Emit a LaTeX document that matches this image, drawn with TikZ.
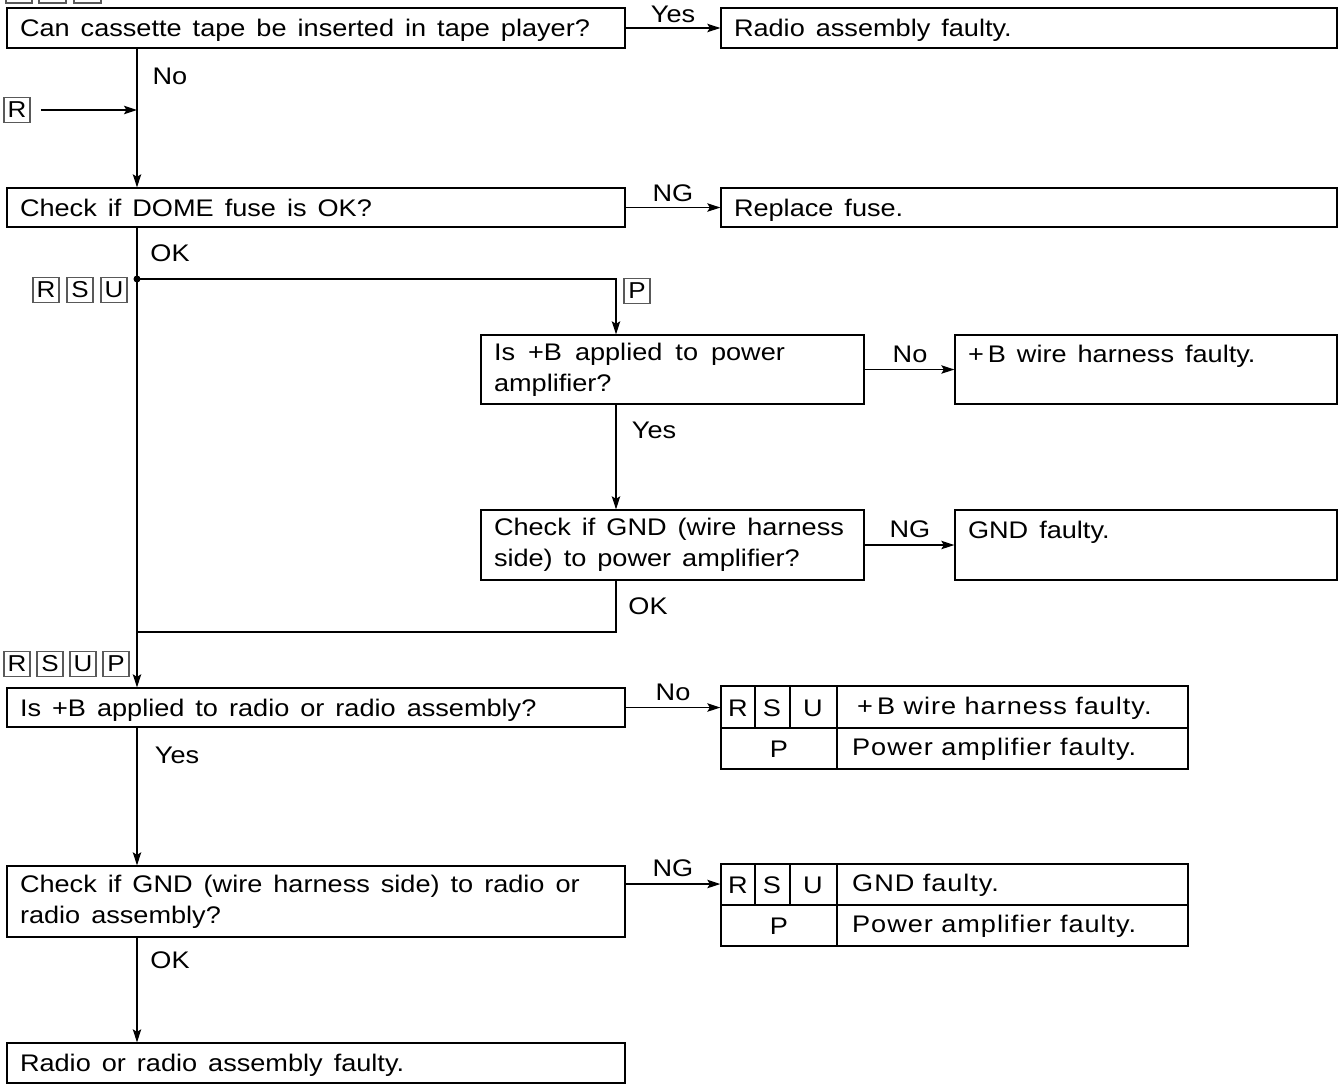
\documentclass[tikz,border=0pt]{standalone}
\usepackage{fontspec}
\setmainfont{Liberation Sans}[FakeStretch=1.13]
\newfontfamily\cellfont{Liberation Sans}[FakeStretch=1.13, LetterSpace=4]
\usetikzlibrary{arrows.meta,calc}
\newcommand{\mytxt}{\fontsize{24}{31}\selectfont}
\newcommand{\celltxt}{\cellfont\fontsize{24}{31}\selectfont}
\newcommand{\tagtxt}{\fontsize{23}{24}\selectfont}
\begin{document}
\begin{tikzpicture}[x=1pt,y=-1pt,
 font=\mytxt,
 box/.style={draw, line width=1.4pt, inner xsep=13pt, inner ysep=0pt, align=left,
   execute at begin node={\spaceskip=11pt plus 1pt minus 1pt\relax}},
 one/.style={text depth=0pt},
 arr/.style={line width=1.2pt, -{Stealth[length=13pt,width=8.5pt,inset=2.5pt]}},
 ln/.style={line width=1.2pt},
 lbl/.style={inner sep=0pt},
 tag/.style={draw=black!65, line width=1.8pt, minimum width=26pt, minimum height=25pt, inner sep=0pt, font=\tagtxt},
 cell/.style={inner sep=0pt, font=\celltxt}
]
\clip (0,0) rectangle (1342,1090);
\fill[white] (0,0) rectangle (1342,1090);
% partially visible tags at top
\draw[draw=black!65, line width=1.8pt] (6,-22) rectangle (32,3);
\draw[draw=black!65, line width=1.8pt] (39,-22) rectangle (66,3);
\draw[draw=black!65, line width=1.8pt] (74,-22) rectangle (101,3);

\coordinate (vx) at (137,0);
\coordinate (vy) at (616,0);

% boxes
\node[box, one, minimum height=40pt, text width=592pt] (b1) at (316,28) {Can cassette tape be inserted in tape player?};
\node[box, one, minimum height=40pt, text width=590pt] (b2) at (1029,28) {Radio assembly faulty.};
\node[box, one, minimum height=39pt, text width=592pt] (b3) at (316,207.5) {Check if DOME fuse is OK?};
\node[box, one, minimum height=39pt, text width=590pt] (b4) at (1029,207.5) {Replace fuse.};
\node[box, minimum height=69pt, text width=357pt] (b5) at (672.5,369.5) {{\spaceskip=13pt\relax Is +B applied to power}\\amplifier?};
\node[box, minimum height=69pt, text width=356pt] (b6) at (1146,369.5) {+\,B wire harness faulty.\\\mbox{}};
\node[box, minimum height=70pt, text width=357pt] (b7) at (672.5,545) {Check if GND (wire harness\\side) to power amplifier?};
\node[box, minimum height=70pt, text width=356pt] (b8) at (1146,545) {GND faulty.\\\mbox{}};
\node[box, one, minimum height=39pt, text width=592pt] (b9) at (316,707.5) {Is +B applied to radio or radio assembly?};
\node[box, minimum height=71pt, text width=592pt] (b10) at (316,901.5) {Check if GND (wire harness side) to radio or\\radio assembly?};
\node[box, one, minimum height=40pt, text width=592pt] (b11) at (316,1063) {Radio or radio assembly faulty.};

% tables
\node[draw, line width=1.4pt, minimum width=467pt, minimum height=83pt, inner sep=0pt] (t1) at (954.5,727.5) {};
\draw[line width=1.2pt] (721,728) -- (1188,728);
\draw[line width=1.2pt] (755,686) -- (755,728);
\draw[line width=1.2pt] (790,686) -- (790,728);
\draw[line width=1.2pt] (837,686) -- (837,769);
\node[cell] (t1r) at (738,708) {R};
\node[cell] (t1s) at (772,708) {S};
\node[cell] (t1u) at (813,708) {U};
\node[cell, anchor=west] (t1a) at (857,708) {+\,B wire harness faulty.};
\node[cell] (t1p) at (779,749) {P};
\node[cell, anchor=west] (t1b) at (852,749) {Power amplifier faulty.};

\node[draw, line width=1.4pt, minimum width=467pt, minimum height=82pt, inner sep=0pt] (t2) at (954.5,905) {};
\draw[line width=1.2pt] (721,905) -- (1188,905);
\draw[line width=1.2pt] (755,864) -- (755,905);
\draw[line width=1.2pt] (790,864) -- (790,905);
\draw[line width=1.2pt] (837,864) -- (837,946);
\node[cell] (t2r) at (738,885) {R};
\node[cell] (t2s) at (772,885) {S};
\node[cell] (t2u) at (813,885) {U};
\node[cell, anchor=west] (t2a) at (852,885) {GND faulty.};
\node[cell] (t2p) at (779,926) {P};
\node[cell, anchor=west] (t2b) at (852,926) {Power amplifier faulty.};

% tags
\node[tag] (tR) at (17,110) {R};
\node[tag] (tR2) at (46,290) {R};
\node[tag] (tS2) at (80,290) {S};
\node[tag] (tU2) at (114,290) {U};
\node[tag] (tP) at (637,291) {P};
\node[tag] (tR3) at (17,664) {R};
\node[tag] (tS3) at (50,664) {S};
\node[tag] (tU3) at (83,664) {U};
\node[tag] (tP3) at (116,664) {P};

% connectors
\coordinate (jR) at (137,110);
\coordinate (j1) at (137,279);
\coordinate (j2) at (137,632);
\coordinate (e10) at (625,884);

\draw[arr] (b1.east) -- (b2.west);
\draw[arr] (b1.south -| vx) -- (b3.north -| vx);
\draw[arr] ([xshift=10pt]tR.east) -- (jR);
\draw[arr] (b3.east) -- (b4.west);
\draw[arr] (b3.south -| vx) -- (b9.north -| vx);
\fill (j1) circle (3.5pt);
\draw[arr] (j1) -| (b5.north -| vy);
\draw[arr] (b5.east) -- (b6.west);
\draw[arr] (b5.south -| vy) -- (b7.north -| vy);
\draw[arr] (b7.east) -- (b8.west);
\draw[ln] (b7.south -| vy) |- (j2);
\draw[arr] (b9.east) -- (b9.east -| t1.west);
\draw[arr] (b9.south -| vx) -- (b10.north -| vx);
\draw[arr] (e10) -- (e10 -| t2.west);
\draw[arr] (b10.south -| vx) -- (b11.north -| vx);

% labels
\node[lbl] (l1) at (673,14) {Yes};
\node[lbl] (l2) at (170,76) {No};
\node[lbl] (l3) at (673,193) {NG};
\node[lbl] (l4) at (170,253) {OK};
\node[lbl] (l5) at (910,354) {No};
\node[lbl] (l6) at (654,430) {Yes};
\node[lbl] (l7) at (910,529) {NG};
\node[lbl] (l8) at (648,606) {OK};
\node[lbl] (l9) at (673,692) {No};
\node[lbl] (l10) at (177,755) {Yes};
\node[lbl] (l11) at (673,868) {NG};
\node[lbl] (l12) at (170,960) {OK};
\end{tikzpicture}
\end{document}
